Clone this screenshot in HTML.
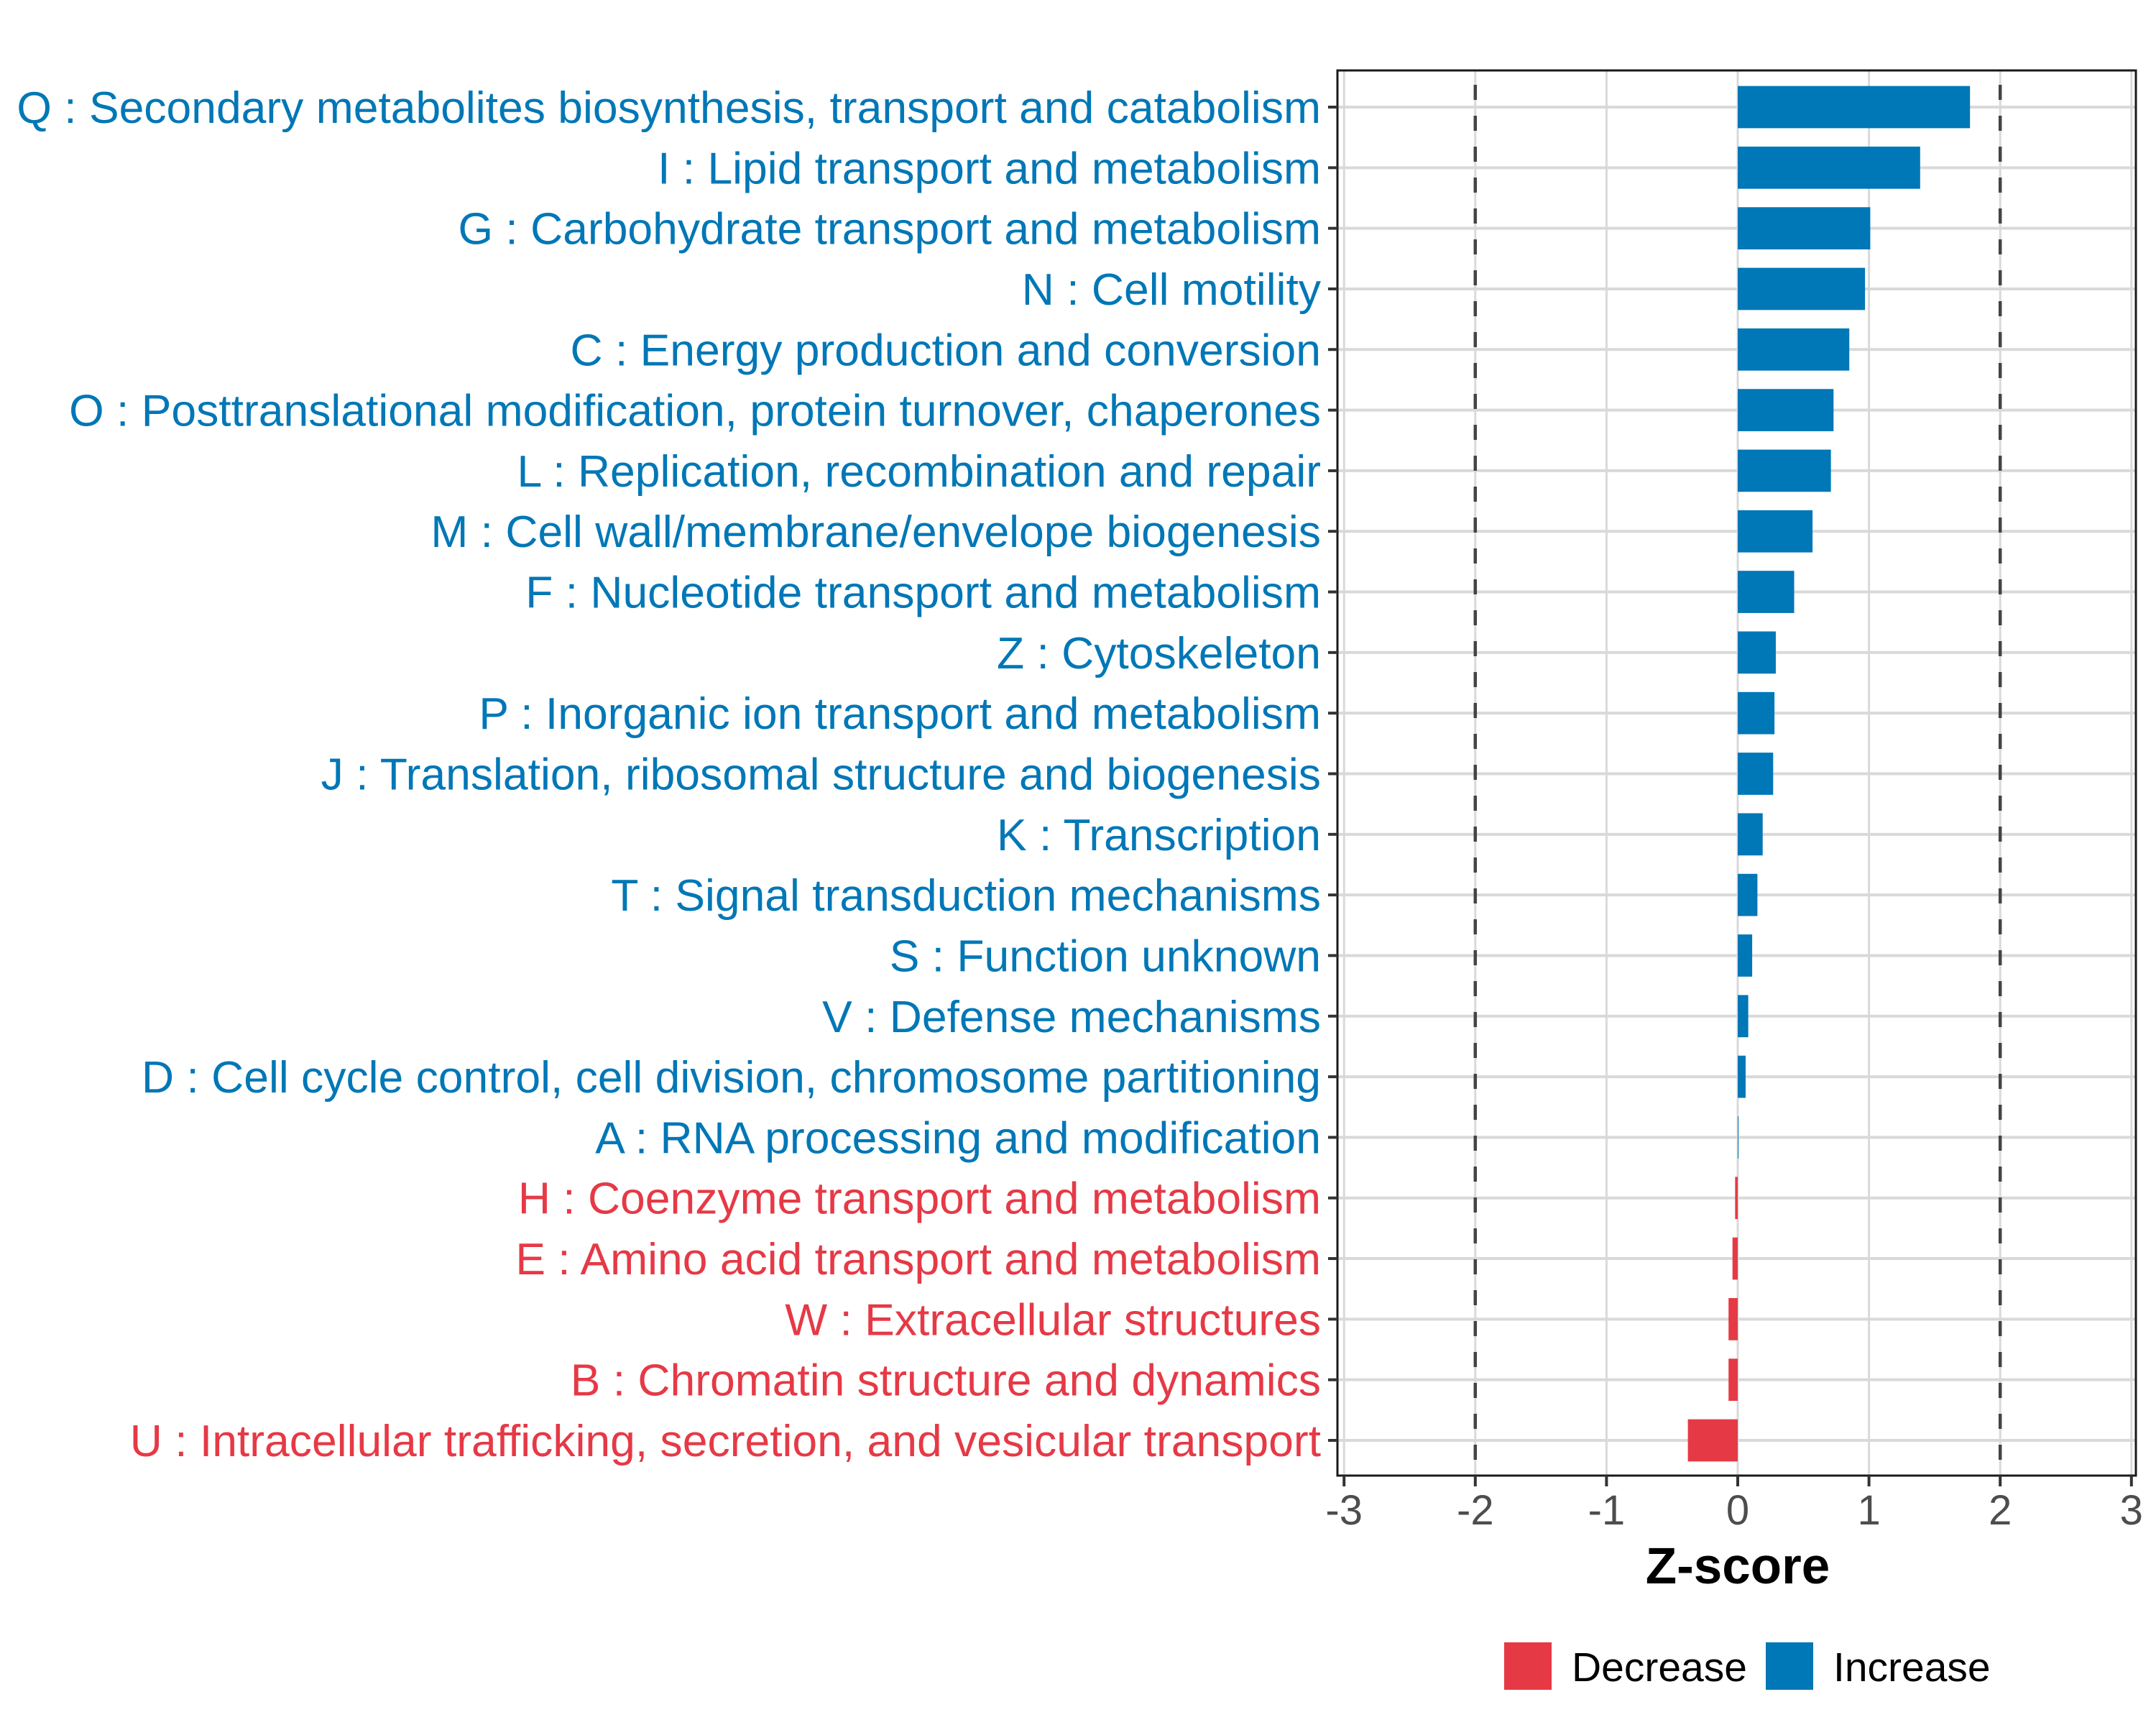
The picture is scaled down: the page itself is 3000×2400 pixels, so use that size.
<!DOCTYPE html>
<html><head><meta charset="utf-8">
<style>html,body{margin:0;padding:0;background:#fff;}svg{display:block;}</style>
</head><body>
<svg id="chart" width="3000" height="2400" viewBox="0 0 3000 2400" xmlns="http://www.w3.org/2000/svg" font-family="'Liberation Sans', Arial, sans-serif">
<rect x="0" y="0" width="3000" height="2400" fill="#fff"/>
<g id="grid"></g><g id="bars"></g><g id="labels"></g><g id="axis"></g>
<text x="2418" y="2203" font-size="71" font-weight="bold" text-anchor="middle" fill="#000">Z-score</text>
<g>
<rect x="2093" y="2285" width="66" height="66" fill="#E63946"/>
<text x="2187" y="2339" font-size="57" fill="#000">Decrease</text>
<rect x="2457" y="2285" width="66" height="66" fill="#0077B6"/>
<text x="2551" y="2339" font-size="57" fill="#000">Increase</text>
</g>
</svg>
<script>
const categories = ["Q : Secondary metabolites biosynthesis, transport and catabolism","I : Lipid transport and metabolism","G : Carbohydrate transport and metabolism","N : Cell motility","C : Energy production and conversion","O : Posttranslational modification, protein turnover, chaperones","L : Replication, recombination and repair","M : Cell wall/membrane/envelope biogenesis","F : Nucleotide transport and metabolism","Z : Cytoskeleton","P : Inorganic ion transport and metabolism","J : Translation, ribosomal structure and biogenesis","K : Transcription","T : Signal transduction mechanisms","S : Function unknown","V : Defense mechanisms","D : Cell cycle control, cell division, chromosome partitioning","A : RNA processing and modification","H : Coenzyme transport and metabolism","E : Amino acid transport and metabolism","W : Extracellular structures","B : Chromatin structure and dynamics","U : Intracellular trafficking, secretion, and vesicular transport"];
const zscores = [1.77,1.39,1.01,0.97,0.85,0.73,0.71,0.57,0.43,0.29,0.28,0.27,0.19,0.15,0.11,0.08,0.06,0.005,-0.02,-0.04,-0.07,-0.07,-0.38];
const xTicks = [-3,-2,-1,0,1,2,3];
const refLines = [-2,2];

const NS="http://www.w3.org/2000/svg";
const PL=1861, PR=2972, PT=98, PB=2053;
const x0=2418, unit=182.6;
function xs(v){return x0+v*unit;}
const rowStep=(2004-149)/(categories.length-1);
function ys(i){return 149+i*rowStep;}
function mk(tag,attrs,parent){const e=document.createElementNS(NS,tag);for(const k in attrs)e.setAttribute(k,attrs[k]);parent.appendChild(e);return e;}
const grid=document.getElementById('grid'),bars=document.getElementById('bars'),labels=document.getElementById('labels'),axis=document.getElementById('axis');

xTicks.forEach(t=>{
  const l=mk('line',{x1:xs(t),x2:xs(t),y1:PT,y2:PB,stroke:'#D9D9D9','stroke-width':3},grid);
  
  
});
categories.forEach((c,i)=>{
  const l=mk('line',{x1:PL,x2:PR,y1:ys(i),y2:ys(i),stroke:'#D9D9D9','stroke-width':4},grid);
  
  
});
refLines.forEach(t=>{
  const l=mk('line',{x1:xs(t),x2:xs(t),y1:PT,y2:PB,stroke:'#444','stroke-width':4.5,'stroke-dasharray':'21 22','stroke-dashoffset':-20},grid);
  
  
});
const bh=58.7;
zscores.forEach((v,i)=>{
  const a=Math.min(xs(0),xs(v)),w=Math.abs(xs(v)-xs(0));
  const r=mk('rect',{x:a,y:ys(i)-bh/2,width:Math.max(w,1),height:bh,fill:v<0?'#E63946':'#0077B6'},bars);
  
  
});
mk('rect',{x:PL,y:PT,width:PR-PL,height:PB-PT,fill:'none',stroke:'#1a1a1a','stroke-width':3},axis);
const txts=[];
categories.forEach((c,i)=>{
  const t=mk('text',{x:1838,y:ys(i)+22,'font-size':60,'text-anchor':'end',fill:zscores[i]<0?'#E63946':'#0077B6'},labels);
  t.textContent=c;
  
  
  txts.push(t);
  const tk=mk('line',{x1:1848,x2:PL,y1:ys(i),y2:ys(i),stroke:'#333','stroke-width':4},axis);
  
  
});
try{const w=txts[0].getComputedTextLength();if(w>0){const fs=60*1815/w;txts.forEach(t=>t.setAttribute('font-size',fs.toFixed(2)));}}catch(e){}
xTicks.forEach(t=>{
  const tk=mk('line',{x1:xs(t),x2:xs(t),y1:PB,y2:PB+15,stroke:'#333','stroke-width':4},axis);
  
  
  const lb=mk('text',{x:xs(t),y:2121,'font-size':58,'text-anchor':'middle',fill:'#4D4D4D'},axis);
  lb.textContent=String(t);
  
  
});
</script>
</body></html>
